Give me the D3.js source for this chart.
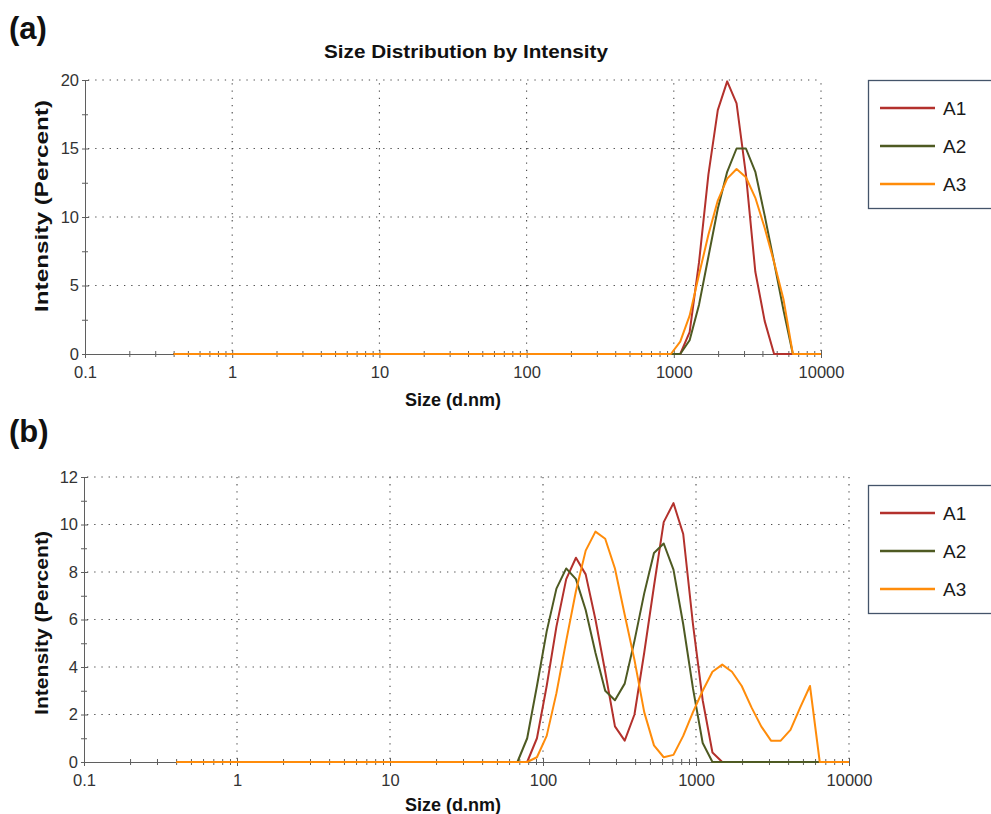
<!DOCTYPE html>
<html>
<head>
<meta charset="utf-8">
<script src="https://cdn.jsdelivr.net/npm/d3@7"></script>
<style>
  html, body { margin: 0; padding: 0; background: #fff; }
  svg { display: block; font-family: "Liberation Sans", Arial, sans-serif; }
</style>
</head>
<body>
<svg id="chart" width="991" height="814"></svg>
<script>
// Size classes (d.nm) of the DLS instrument, 70 log-spaced bins
const sizes = [
  0.4, 0.4632, 0.5365, 0.6213, 0.7195, 0.8332, 0.9649, 1.117, 1.294, 1.499,
  1.736, 2.010, 2.328, 2.696, 3.122, 3.615, 4.187, 4.849, 5.615, 6.503,
  7.531, 8.721, 10.10, 11.70, 13.54, 15.69, 18.17, 21.04, 24.36, 28.21,
  32.67, 37.84, 43.82, 50.75, 58.77, 68.06, 78.82, 91.28, 105.7, 122.4,
  141.8, 164.2, 190.1, 220.2, 255.0, 295.3, 342.0, 396.1, 458.7, 531.2,
  615.1, 712.4, 825.0, 955.4, 1106, 1281, 1484, 1718, 1990, 2305,
  2669, 3091, 3580, 4145, 4801, 5560, 6439, 7456, 8635, 10000
];

const seriesNames = ["A1", "A2", "A3"];
const seriesColors = ["#b3312c", "#4e5a22", "#ff8c0a"];

// Panel (a): intensity (%) per size class
const panelA_A1 = [
  0,0,0,0,0,0,0,0,0,0,
  0,0,0,0,0,0,0,0,0,0,
  0,0,0,0,0,0,0,0,0,0,
  0,0,0,0,0,0,0,0,0,0,
  0,0,0,0,0,0,0,0,0,0,
  0,0,0,0,0,1.6,6.7,13.1,17.8,19.9,
  18.3,13.1,6.0,2.4,0,0,0,0,0,0
];
const panelA_A2 = [
  0,0,0,0,0,0,0,0,0,0,
  0,0,0,0,0,0,0,0,0,0,
  0,0,0,0,0,0,0,0,0,0,
  0,0,0,0,0,0,0,0,0,0,
  0,0,0,0,0,0,0,0,0,0,
  0,0,0,0,0,1.0,3.6,7.1,10.6,13.3,
  15.0,15.0,13.3,10.1,6.7,3.2,0,0,0,0
];
const panelA_A3 = [
  0,0,0,0,0,0,0,0,0,0,
  0,0,0,0,0,0,0,0,0,0,
  0,0,0,0,0,0,0,0,0,0,
  0,0,0,0,0,0,0,0,0,0,
  0,0,0,0,0,0,0,0,0,0,
  0,0,0,0,0.9,2.8,5.8,8.7,11.2,12.8,
  13.5,12.9,11.4,9.2,6.7,4.0,0,0,0,0
];

// Panel (b): intensity (%) per size class
const panelB_A1 = [
  0,0,0,0,0,0,0,0,0,0,
  0,0,0,0,0,0,0,0,0,0,
  0,0,0,0,0,0,0,0,0,0,
  0,0,0,0,0,0,0,1.0,3.2,5.7,
  7.7,8.6,7.9,6.0,3.8,1.5,0.9,2.0,4.6,7.4,
  10.1,10.9,9.6,5.8,2.6,0.4,0,0,0,0,
  0,0,0,0,0,0,0,0,0,0
];
const panelB_A2 = [
  0,0,0,0,0,0,0,0,0,0,
  0,0,0,0,0,0,0,0,0,0,
  0,0,0,0,0,0,0,0,0,0,
  0,0,0,0,0,0,1.0,3.2,5.5,7.3,
  8.15,7.7,6.4,4.6,3.0,2.6,3.3,5.1,7.1,8.8,
  9.2,8.1,5.8,3.1,0.8,0,0,0,0,0,
  0,0,0,0,0,0,0,0,0,0
];
const panelB_A3 = [
  0,0,0,0,0,0,0,0,0,0,
  0,0,0,0,0,0,0,0,0,0,
  0,0,0,0,0,0,0,0,0,0,
  0,0,0,0,0,0,0,0.2,1.1,2.9,
  5.1,7.2,8.9,9.7,9.4,8.15,6.2,4.3,2.1,0.7,
  0.2,0.3,1.1,2.1,3.0,3.8,4.1,3.8,3.2,2.3,
  1.5,0.9,0.9,1.35,2.3,3.2,0,0,0,0
];

const xTickValues = [0.1, 1, 10, 100, 1000, 10000];
const xTickLabels = ["0.1", "1", "10", "100", "1000", "10000"];
const yTicksA = [0, 5, 10, 15, 20];
const yMinorA = [2.5, 7.5, 12.5, 17.5];
const yTicksB = [0, 2, 4, 6, 8, 10, 12];
const yMinorB = [1, 3, 5, 7, 9, 11];

const svg = d3.select("#chart");
const AXIS = "#5f5f5f";
const GRID = "#4a4a4a";

function drawPanel(p) {
  const g = svg.append("g");
  const x = d3.scaleLog().domain([0.1, 10000]).range([p.left, p.right]);
  const y = d3.scaleLinear().domain([0, p.yMax]).range([p.bottom, p.top]);

  // dotted grid at labelled ticks
  const grid = g.append("g")
    .attr("stroke", GRID).attr("stroke-width", 1.1)
    .attr("stroke-dasharray", "1.3,5.9").attr("fill", "none");
  grid.selectAll("line.h").data(p.yTicks.filter(d => d > 0)).join("line")
    .attr("class", "h")
    .attr("x1", p.left + 3).attr("x2", p.right)
    .attr("y1", d => y(d)).attr("y2", d => y(d));
  grid.selectAll("line.v").data(xTickValues.filter(d => d > 0.1)).join("line")
    .attr("class", "v")
    .attr("x1", d => x(d)).attr("x2", d => x(d))
    .attr("y1", p.bottom - 3).attr("y2", p.top);

  // x axis: minor ticks (every integer multiple of a decade)
  const xMinor = g.append("g").attr("transform", `translate(0,${p.bottom})`)
    .call(d3.axisBottom(x).tickValues(x.ticks().filter(d => !xTickValues.includes(d)))
      .tickSizeInner(3).tickSizeOuter(0).tickFormat(""));
  xMinor.select(".domain").remove();
  xMinor.selectAll(".tick line").attr("y1", -3).attr("stroke", AXIS);

  // x axis: decades with labels
  const xMajor = g.append("g").attr("transform", `translate(0,${p.bottom})`)
    .call(d3.axisBottom(x).tickValues(xTickValues)
      .tickFormat((d, i) => xTickLabels[i])
      .tickSizeInner(4).tickSizeOuter(0).tickPadding(8));
  xMajor.select(".domain").attr("stroke", AXIS);
  xMajor.selectAll(".tick line").attr("y1", -4).attr("stroke", AXIS);
  xMajor.selectAll(".tick text")
    .attr("font-family", "'Liberation Sans', Arial, sans-serif")
    .attr("font-size", 16.5).attr("fill", "#333");

  // y axis: minor ticks
  const yMin = g.append("g").attr("transform", `translate(${p.left},0)`)
    .call(d3.axisLeft(y).tickValues(p.yMinor).tickSizeInner(3).tickSizeOuter(0).tickFormat(""));
  yMin.select(".domain").remove();
  yMin.selectAll(".tick line").attr("x1", 3).attr("stroke", AXIS);

  // y axis: labelled ticks
  const yMaj = g.append("g").attr("transform", `translate(${p.left},0)`)
    .call(d3.axisLeft(y).tickValues(p.yTicks).tickSizeInner(3).tickSizeOuter(0).tickPadding(3));
  yMaj.select(".domain").attr("stroke", AXIS);
  yMaj.selectAll(".tick line").attr("x1", 4).attr("stroke", AXIS);
  yMaj.selectAll(".tick text")
    .attr("font-family", "'Liberation Sans', Arial, sans-serif")
    .attr("font-size", 16.5).attr("fill", "#333");

  // distribution curves
  const line = d3.line().x(d => x(d[0])).y(d => y(d[1]));
  p.series.forEach((vals, i) => {
    g.append("path")
      .datum(sizes.map((s, k) => [s, vals[k]]))
      .attr("fill", "none")
      .attr("stroke", seriesColors[i])
      .attr("stroke-width", 2)
      .attr("stroke-linejoin", "round")
      .attr("d", line);
  });

  // axis titles
  g.append("text")
    .attr("x", 453).attr("y", p.xTitleY)
    .attr("text-anchor", "middle")
    .attr("font-weight", "bold").attr("font-size", 18).attr("fill", "#111")
    .text("Size (d.nm)");
  g.append("text")
    .attr("transform", `translate(48,${p.yTitleCenter}) rotate(-90)`)
    .attr("text-anchor", "middle")
    .attr("font-weight", "bold").attr("font-size", 18).attr("fill", "#111")
    .attr("textLength", p.yTitleLength).attr("lengthAdjust", "spacingAndGlyphs")
    .text("Intensity (Percent)");

  // panel letter
  g.append("text")
    .attr("x", 9).attr("y", p.letterY)
    .attr("font-weight", "bold").attr("font-size", 31).attr("fill", "#111")
    .text(p.letter);

  // legend
  const lg = g.append("g").attr("transform", `translate(868,${p.legendTop})`);
  lg.append("rect")
    .attr("x", 0.5).attr("y", 0.5).attr("width", 140).attr("height", 128)
    .attr("fill", "#fff").attr("stroke", "#44546a").attr("stroke-width", 1.3);
  seriesNames.forEach((name, i) => {
    const ly = 28 + i * 38;
    lg.append("line")
      .attr("x1", 12).attr("x2", 67).attr("y1", ly).attr("y2", ly)
      .attr("stroke", seriesColors[i]).attr("stroke-width", 2.5);
    lg.append("text")
      .attr("x", 75).attr("y", ly + 7)
      .attr("font-size", 19).attr("fill", "#1a1a1a")
      .text(name);
  });
}

// chart title
svg.append("text")
  .attr("x", 466).attr("y", 58)
  .attr("text-anchor", "middle")
  .attr("font-weight", "bold").attr("font-size", 18).attr("fill", "#111")
  .attr("textLength", 284).attr("lengthAdjust", "spacingAndGlyphs")
  .text("Size Distribution by Intensity");

drawPanel({
  letter: "(a)", letterY: 39,
  left: 85, right: 821, top: 80, bottom: 354,
  yMax: 20, yTicks: yTicksA, yMinor: yMinorA,
  series: [panelA_A1, panelA_A2, panelA_A3],
  xTitleY: 406, yTitleCenter: 206, yTitleLength: 212,
  legendTop: 80
});

drawPanel({
  letter: "(b)", letterY: 442,
  left: 84, right: 849, top: 477, bottom: 762,
  yMax: 12, yTicks: yTicksB, yMinor: yMinorB,
  series: [panelB_A1, panelB_A2, panelB_A3],
  xTitleY: 811, yTitleCenter: 623, yTitleLength: 184,
  legendTop: 485
});
</script>
</body>
</html>
